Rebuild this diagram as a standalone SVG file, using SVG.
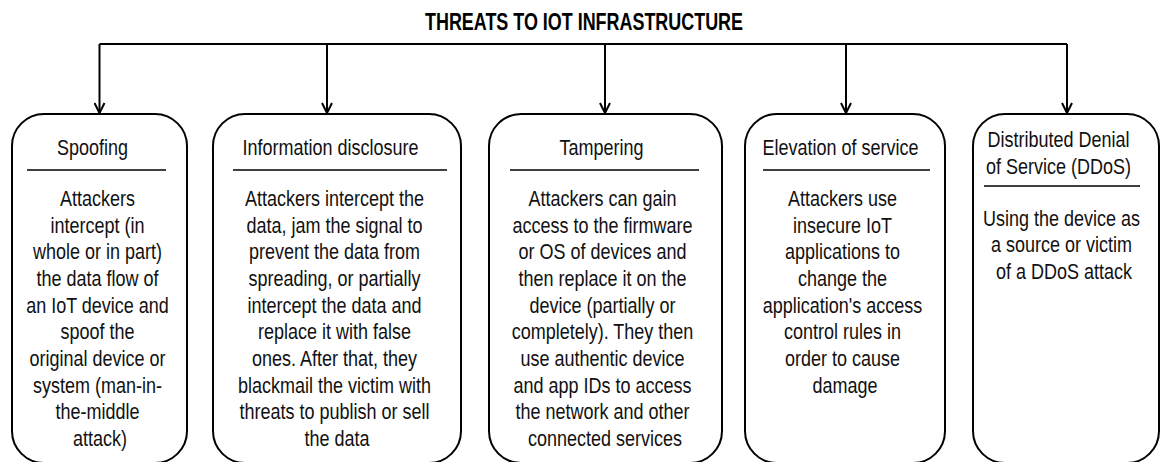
<svg xmlns="http://www.w3.org/2000/svg" width="1163" height="462" viewBox="0 0 1163 462">
  <style>
    .box { fill: #fff; stroke: #000; stroke-width: 2; }
    .rule { stroke: #000; stroke-width: 1.5; }
    .link { fill: none; stroke: #000; stroke-width: 2; }
    .t { font-family: "Liberation Sans", Arial, sans-serif; font-size: 18px; fill: #111; text-anchor: middle; }
    .title { font-family: "Liberation Sans", Arial, sans-serif; font-size: 18px; font-weight: bold; fill: #000; text-anchor: middle; }
  </style>
  <defs>
    <marker id="arrow" viewBox="0 0 12 12" refX="11" refY="6" markerWidth="12" markerHeight="12" markerUnits="userSpaceOnUse" orient="auto">
      <path d="M1,1 L11,6 L1,11" fill="none" stroke="#000" stroke-width="2"/>
    </marker>
  </defs>
  <rect width="1163" height="462" fill="#fff"/>

  <!-- heading -->
  <text class="title" transform="matrix(1 0 0 1.3 0 0)" x="584" y="23.08" textLength="318" lengthAdjust="spacingAndGlyphs">THREATS TO IOT INFRASTRUCTURE</text>

  <!-- connectors -->
  <g id="connectors">
    <path class="link" d="M99.5,44 H1067"/>
    <path class="link" d="M99.5,44 V113" marker-end="url(#arrow)"/>
    <path class="link" d="M327,44 V113" marker-end="url(#arrow)"/>
    <path class="link" d="M605,44 V113" marker-end="url(#arrow)"/>
    <path class="link" d="M846,44 V113" marker-end="url(#arrow)"/>
    <path class="link" d="M1067,44 V113" marker-end="url(#arrow)"/>
  </g>

  <g id="spoofing">
    <rect class="box" x="12" y="114" width="175" height="349" rx="32" ry="32"/>
    <line class="rule" x1="27" y1="170" x2="166" y2="170"/>
    <text class="t" transform="matrix(1 0 0 1.2 0 0)">
      <tspan x="95" y="129.17">Spoofing</tspan>
      <tspan x="100" y="171.67">Attackers</tspan>
      <tspan x="100" dy="22.22">intercept (in</tspan>
      <tspan x="100" dy="22.22">whole or in part)</tspan>
      <tspan x="100" dy="22.22">the data flow of</tspan>
      <tspan x="100" dy="22.22">an IoT device and</tspan>
      <tspan x="100" dy="22.22">spoof the</tspan>
      <tspan x="100" dy="22.22">original device or</tspan>
      <tspan x="100" dy="22.22">system (man-in-</tspan>
      <tspan x="100" dy="22.22">the-middle</tspan>
      <tspan x="100" dy="22.22">attack)</tspan>
    </text>
  </g>

  <g id="information-disclosure">
    <rect class="box" x="213" y="114" width="248" height="349" rx="32" ry="32"/>
    <line class="rule" x1="233" y1="170" x2="447" y2="170"/>
    <text class="t" transform="matrix(1 0 0 1.2 0 0)">
      <tspan x="333" y="129.17">Information disclosure</tspan>
      <tspan x="337" y="171.67">Attackers intercept the</tspan>
      <tspan x="337" dy="22.22">data, jam the signal to</tspan>
      <tspan x="337" dy="22.22">prevent the data from</tspan>
      <tspan x="337" dy="22.22">spreading, or partially</tspan>
      <tspan x="337" dy="22.22">intercept the data and</tspan>
      <tspan x="337" dy="22.22">replace it with false</tspan>
      <tspan x="337" dy="22.22">ones. After that, they</tspan>
      <tspan x="337" dy="22.22">blackmail the victim with</tspan>
      <tspan x="337" dy="22.22">threats to publish or sell</tspan>
      <tspan x="337" dy="22.22">the data</tspan>
    </text>
  </g>

  <g id="tampering">
    <rect class="box" x="489" y="114" width="233" height="349" rx="32" ry="32"/>
    <line class="rule" x1="510" y1="170" x2="699" y2="170"/>
    <text class="t" transform="matrix(1 0 0 1.2 0 0)">
      <tspan x="604" y="129.17">Tampering</tspan>
      <tspan x="605" y="171.67">Attackers can gain</tspan>
      <tspan x="605" dy="22.22">access to the firmware</tspan>
      <tspan x="605" dy="22.22">or OS of devices and</tspan>
      <tspan x="605" dy="22.22">then replace it on the</tspan>
      <tspan x="605" dy="22.22">device (partially or</tspan>
      <tspan x="605" dy="22.22">completely). They then</tspan>
      <tspan x="605" dy="22.22">use authentic device</tspan>
      <tspan x="605" dy="22.22">and app IDs to access</tspan>
      <tspan x="605" dy="22.22">the network and other</tspan>
      <tspan x="605" dy="22.22">connected services</tspan>
    </text>
  </g>

  <g id="elevation-of-service">
    <rect class="box" x="745" y="114" width="200" height="349" rx="32" ry="32"/>
    <line class="rule" x1="763" y1="170" x2="930" y2="170"/>
    <text class="t" transform="matrix(1 0 0 1.2 0 0)">
      <tspan x="843" y="129.17">Elevation of service</tspan>
      <tspan x="845" y="171.67">Attackers use</tspan>
      <tspan x="845" dy="22.22">insecure IoT</tspan>
      <tspan x="845" dy="22.22">applications to</tspan>
      <tspan x="845" dy="22.22">change the</tspan>
      <tspan x="845" dy="22.22">application's access</tspan>
      <tspan x="845" dy="22.22">control rules in</tspan>
      <tspan x="845" dy="22.22">order to cause</tspan>
      <tspan x="845" dy="22.22">damage</tspan>
    </text>
  </g>

  <g id="ddos">
    <rect class="box" x="973" y="114" width="186" height="349" rx="32" ry="32"/>
    <line class="rule" x1="984" y1="186" x2="1140" y2="186"/>
    <text class="t" transform="matrix(1 0 0 1.2 0 0)">
      <tspan x="1061" y="122.5">Distributed Denial</tspan>
      <tspan x="1061" y="145">of Service (DDoS)</tspan>
      <tspan x="1064" y="188.1">Using the device as</tspan>
      <tspan x="1064" dy="22.22">a source or victim</tspan>
      <tspan x="1064" dy="22.22">of a DDoS attack</tspan>
    </text>
  </g>
</svg>
